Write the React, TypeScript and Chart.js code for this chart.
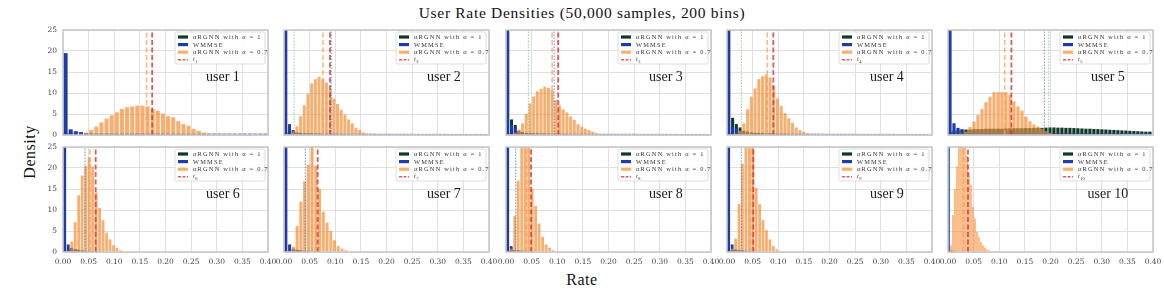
import React, { useEffect, useRef } from "react";
import { Chart, registerables } from "chart.js";

Chart.register(...registerables);

// ---------------- text ----------------
const TITLE = "User Rate Densities (50,000 samples, 200 bins)";
const X_LABEL = "Rate";
const Y_LABEL = "Density";
const USER_LABELS = ["user 1", "user 2", "user 3", "user 4", "user 5", "user 6", "user 7", "user 8", "user 9", "user 10"];
const SERIES_LABELS = ["αRGNN with α = 1", "WMMSE", "αRGNN with α = 0.7"];
const THRESHOLD_SYMBOL = "t";
const THRESHOLD_SUBSCRIPTS = ["1", "2", "3", "4", "5", "6", "7", "8", "9", "10"];

// ---------------- axes ----------------
const X_TICKS = [0, 0.05, 0.1, 0.15, 0.2, 0.25, 0.3, 0.35, 0.4];
const Y_TICKS = [0, 5, 10, 15, 20, 25];

// histogram bin width of each user's panel
const BIN_WIDTHS = [0.01, 0.0072, 0.0072, 0.0073, 0.0078, 0.0068, 0.0073, 0.0068, 0.0067, 0.0039];

// ---------------- densities per bin (bin k starts at k * bin width) ----------------
const ALPHA1_U1 = [0.5, 0.4, 0.35, 0.3, 0.3, 0.3, 0.3, 0.3, 0.3, 0.3, 0.3, 0.3, 0.3, 0.3, 0.3, 0.3, 0.3, 0.3, 0.3, 0.3, 0.28, 0.28, 0.26, 0.25, 0.24, 0.22, 0.2, 0.2, 0.18, 0.15];
const WMMSE_U1 = [19.5, 1.35, 0.9, 0.7, 0.45, 0.35, 0.3, 0.3, 0.3, 0.3, 0.3, 0.3, 0.3, 0.3, 0.3, 0.3, 0.3, 0.3, 0.3, 0.3, 0.3, 0.3, 0.3, 0.3, 0.3, 0.3, 0.32, 0.32, 0.32, 0.32, 0.32, 0.32, 0.32, 0.32, 0.32, 0.32, 0.32, 0.32, 0.32, 0.32];
const ALPHA07_U1 = [0, 0, 0.1, 0.3, 0.55, 1.2, 2.0, 3.0, 3.9, 4.7, 5.4, 6.2, 6.6, 6.8, 7.0, 7.0, 6.8, 6.2, 5.8, 5.1, 4.5, 4.2, 3.3, 2.6, 2.2, 1.4, 1.0, 0.55, 0.3, 0.15, 0.08, 0.03];

const ALPHA1_U2 = [0.8, 1.0, 0.9, 0.6, 0.5, 0.45, 0.4, 0.4, 0.35, 0.35, 0.3, 0.3, 0.3, 0.3, 0.25, 0.25, 0.2, 0.2, 0.2, 0.15, 0.15, 0.1, 0.1];
const WMMSE_U2 = [40, 2.6, 1.2, 0.5, 0.35, 0.3, 0.3, 0.3, 0.3, 0.3, 0.3, 0.3, 0.3, 0.3, 0.3, 0.3, 0.3, 0.3, 0.3, 0.3, 0.3, 0.3, 0.3, 0.3, 0.3, 0.28, 0.28, 0.28, 0.28, 0.28, 0.28, 0.28, 0.28, 0.28, 0.28, 0.26, 0.26, 0.26, 0.26, 0.26, 0.26, 0.26, 0.26, 0.26, 0.26, 0.25, 0.25, 0.25, 0.25, 0.25, 0.25, 0.25, 0.25, 0.25, 0.25];
const ALPHA07_U2 = [0, 0.2, 0.8, 2.1, 4.5, 7.1, 9.8, 12.3, 13.3, 13.9, 13.3, 12.5, 10.9, 8.7, 7.4, 6.0, 4.8, 3.7, 2.8, 1.7, 1.2, 0.6, 0.3, 0.15, 0.05];

const ALPHA1_U3 = [0.5, 3.7, 2.4, 1.0, 0.7, 0.5, 0.45, 0.4, 0.4, 0.35, 0.35, 0.3, 0.3, 0.3, 0.3, 0.25, 0.25, 0.2, 0.2, 0.2, 0.15, 0.15, 0.1, 0.1];
const WMMSE_U3 = [40, 2.4, 1.6, 0.6, 0.4, 0.3, 0.3, 0.3, 0.3, 0.3, 0.3, 0.3, 0.3, 0.3, 0.3, 0.3, 0.3, 0.3, 0.3, 0.3, 0.3, 0.3, 0.3, 0.3, 0.3, 0.28, 0.28, 0.28, 0.28, 0.28, 0.28, 0.28, 0.28, 0.28, 0.28, 0.26, 0.26, 0.26, 0.26, 0.26, 0.26, 0.26, 0.26, 0.26, 0.26, 0.25, 0.25, 0.25, 0.25, 0.25, 0.25, 0.25, 0.25, 0.25, 0.25];
const ALPHA07_U3 = [0, 0, 0.5, 1.3, 2.8, 5.0, 7.5, 9.2, 10.4, 11.0, 11.5, 11.2, 10.7, 8.3, 7.1, 6.1, 5.4, 4.4, 3.6, 2.6, 2.0, 1.5, 1.2, 0.8, 0.4, 0.2, 0.1];

const ALPHA1_U4 = [0.5, 4.1, 2.6, 1.8, 1.0, 0.8, 0.6, 0.5, 0.5, 0.45, 0.4, 0.4, 0.35, 0.3, 0.3, 0.3, 0.25, 0.25, 0.2, 0.2, 0.15, 0.1];
const WMMSE_U4 = [40, 2.0, 1.6, 0.6, 0.4, 0.3, 0.3, 0.3, 0.3, 0.3, 0.3, 0.3, 0.3, 0.3, 0.3, 0.3, 0.3, 0.3, 0.3, 0.3, 0.3, 0.3, 0.3, 0.3, 0.3, 0.28, 0.28, 0.28, 0.28, 0.28, 0.28, 0.28, 0.28, 0.28, 0.28, 0.26, 0.26, 0.26, 0.26, 0.26, 0.26, 0.26, 0.26, 0.26, 0.26, 0.25, 0.25, 0.25, 0.25, 0.25, 0.25, 0.25, 0.25, 0.25];
const ALPHA07_U4 = [0, 0, 0.3, 1.0, 2.8, 6.1, 9.1, 11.1, 13.3, 14.0, 14.4, 13.7, 11.7, 8.7, 6.9, 5.2, 4.0, 2.9, 1.8, 1.2, 0.7, 0.4, 0.2, 0.1];

const ALPHA1_U5 = [0.8, 1.0, 1.1, 1.2, 1.3, 1.3, 1.4, 1.4, 1.4, 1.5, 1.5, 1.5, 1.5, 1.5, 1.55, 1.6, 1.6, 1.6, 1.6, 1.65, 1.65, 1.7, 1.7, 1.7, 1.75, 1.8, 1.8, 1.75, 1.75, 1.7, 1.7, 1.65, 1.6, 1.55, 1.5, 1.5, 1.45, 1.4, 1.35, 1.3, 1.25, 1.2, 1.15, 1.1, 1.05, 1.0, 0.95, 0.9, 0.85, 0.8, 0.8];
const WMMSE_U5 = [40, 2.8, 1.7, 1.4, 0.6, 0.5, 0.5, 0.45, 0.45, 0.45, 0.45, 0.45, 0.45, 0.45, 0.45, 0.45, 0.45, 0.45, 0.45, 0.45, 0.45, 0.45, 0.45, 0.45, 0.45, 0.42, 0.42, 0.42, 0.42, 0.42, 0.42, 0.42, 0.42, 0.42, 0.42, 0.4, 0.4, 0.4, 0.4, 0.4, 0.4, 0.4, 0.4, 0.4, 0.4, 0.4, 0.4, 0.4, 0.4, 0.4, 0.4];
const ALPHA07_U5 = [0, 0, 0, 0.3, 0.8, 1.9, 3.2, 4.8, 6.2, 7.8, 9.1, 10.2, 10.2, 10.2, 10.2, 9.6, 8.0, 6.8, 5.8, 4.4, 3.3, 2.5, 2.0, 1.5, 0.9, 0.5, 0.25, 0.1];

const ALPHA1_U6 = [0.3, 0.6, 0.9, 0.7, 0.5, 0.4, 0.3, 0.3, 0.2, 0.2, 0.1];
const WMMSE_U6 = [40, 1.8, 1.0, 0.5, 0.4, 0.3, 0.2, 0.2, 0.15, 0.1];
const ALPHA07_U6 = [0, 0.3, 2.5, 7.1, 13.5, 18.2, 20.5, 22.5, 20.3, 14.2, 10.5, 7.6, 4.6, 3.0, 1.6, 1.0, 0.4, 0.15];

const ALPHA1_U7 = [0.3, 0.5, 0.6, 0.5, 0.4, 0.3, 0.3, 0.2, 0.2, 0.1];
const WMMSE_U7 = [40, 1.8, 0.8, 0.4, 0.3, 0.2, 0.15, 0.1];
const ALPHA07_U7 = [0, 0.3, 1.3, 6.2, 12.0, 16.8, 20.8, 25.5, 20.5, 15.0, 9.6, 7.0, 5.0, 2.8, 1.4, 0.8, 0.4, 0.15];

const ALPHA1_U8 = [0.3, 0.4, 0.5, 0.4, 0.3, 0.3, 0.2, 0.2, 0.1];
const WMMSE_U8 = [40, 1.4, 0.4, 0.3, 0.2, 0.15, 0.1];
const ALPHA07_U8 = [0, 0.8, 8.6, 17.0, 28.0, 30.0, 27.0, 15.0, 11.0, 6.8, 3.6, 1.8, 1.0, 0.4, 0.15];

const ALPHA1_U9 = [0.3, 0.4, 0.6, 0.5, 0.4, 0.3, 0.3, 0.2, 0.1];
const WMMSE_U9 = [40, 1.8, 0.5, 0.3, 0.2, 0.15, 0.1];
const ALPHA07_U9 = [0, 0.8, 3.2, 11.4, 21.0, 26.0, 27.5, 25.5, 15.2, 11.4, 7.6, 5.2, 3.0, 1.4, 0.6, 0.2];

const ALPHA1_U10 = [0.2, 0.3, 0.3, 0.2, 0.2, 0.1];
const WMMSE_U10 = [40, 0.3, 0.1];
const ALPHA07_U10 = [0, 1.6, 8.8, 15.0, 20.4, 27.0, 30.0, 30.0, 27.0, 23.0, 19.0, 16.0, 10.8, 8.0, 4.8, 3.6, 2.4, 1.6, 1.0, 0.6, 0.4, 0.2];

// vertical reference lines (x values); null = not shown
const THRESHOLDS = [0.174, 0.0898, 0.102, 0.0904, 0.1237, 0.0638, 0.0657, 0.0488, 0.0514, 0.039];
const MEAN_ALPHA07 = [0.163, 0.076, 0.09, 0.0787, 0.1106, 0.0527, 0.0546, 0.04, 0.0458, 0.03];
const MEAN_WMMSE = [null, 0.092, 0.094, null, 0.188, 0.043, 0.0416, 0.019, 0.028, 0.003];
const MEAN_ALPHA1 = [null, 0.0195, 0.0436, 0.028, 0.1966, null, null, null, null, null];

const ALPHA1 = [ALPHA1_U1, ALPHA1_U2, ALPHA1_U3, ALPHA1_U4, ALPHA1_U5, ALPHA1_U6, ALPHA1_U7, ALPHA1_U8, ALPHA1_U9, ALPHA1_U10];
const WMMSE = [WMMSE_U1, WMMSE_U2, WMMSE_U3, WMMSE_U4, WMMSE_U5, WMMSE_U6, WMMSE_U7, WMMSE_U8, WMMSE_U9, WMMSE_U10];
const ALPHA07 = [ALPHA07_U1, ALPHA07_U2, ALPHA07_U3, ALPHA07_U4, ALPHA07_U5, ALPHA07_U6, ALPHA07_U7, ALPHA07_U8, ALPHA07_U9, ALPHA07_U10];

// ---------------- styles / layout ----------------
const SERIF = '"Liberation Serif", "Times New Roman", serif';
const TICK_FAMILY = '"DejaVu Serif", serif';
const GREEN = "rgb(14, 58, 32)";
const BLUE = "rgb(30, 60, 168)";
const ORANGE = "rgba(245, 140, 50, 0.7)";
const ORANGE_LEGEND = "rgba(245, 150, 65, 0.75)";
const RED_LINE = "rgba(214, 50, 50, 0.8)";
const ORANGE_LINE = "rgba(246, 160, 90, 0.75)";
const BLUE_LINE = "rgba(70, 110, 210, 0.8)";
const GREEN_LINE = "rgba(110, 190, 110, 0.75)";
const GRID = "#dfdfdf";
const SPINE = "#c6c6c6";

const PLOT_LEFTS = [63, 284, 506, 727, 948];
const PLOT_TOPS = [30, 147];
const PLOT_W = 205;
const PLOT_H = 105;

function Panel({ index }: { index: number }) {
  const canvasRef = useRef<HTMLCanvasElement | null>(null);
  const col = index % 5;
  const row = Math.floor(index / 5);
  const padL = col === 0 ? 40 : 16;
  const padR = 16;
  const padT = 4;
  const padB = row === 1 ? 22 : 4;
  const width = PLOT_W + padL + padR;
  const height = PLOT_H + padT + padB;

  useEffect(() => {
    const canvas = canvasRef.current;
    if (!canvas) return;
    const bw = BIN_WIDTHS[index];
    const yTop = Y_TICKS[Y_TICKS.length - 1];
    const bins = (vals: number[]) => vals.map((y, k) => ({ x: (k + 0.5) * bw, y }));
    const vline = (v: number) => [
      { x: v, y: Y_TICKS[0] },
      { x: v, y: yTop },
    ];
    const barBase = {
      type: "bar",
      grouped: false,
      barPercentage: 0.8,
      categoryPercentage: 1,
      clip: 0,
      borderWidth: 0,
    };
    const datasets: any[] = [
      { ...barBase, label: SERIES_LABELS[0], data: bins(ALPHA1[index]), backgroundColor: GREEN, order: 6 },
      { ...barBase, label: SERIES_LABELS[1], data: bins(WMMSE[index]), backgroundColor: BLUE, order: 5 },
      { ...barBase, label: SERIES_LABELS[2], data: bins(ALPHA07[index]), backgroundColor: ORANGE, order: 4 },
    ];
    const lineBase = { type: "line", pointRadius: 0, fill: false, clip: false, tension: 0 };
    const g = MEAN_ALPHA1[index];
    if (g !== null) datasets.push({ ...lineBase, data: vline(g), borderColor: GREEN_LINE, borderWidth: 1, borderDash: [1.5, 1.5], order: 3 });
    const b = MEAN_WMMSE[index];
    if (b !== null) datasets.push({ ...lineBase, data: vline(b), borderColor: BLUE_LINE, borderWidth: 1, borderDash: [1.5, 1.5], order: 2 });
    datasets.push({ ...lineBase, data: vline(MEAN_ALPHA07[index]), borderColor: ORANGE_LINE, borderWidth: 1.6, borderDash: [5, 2.5], order: 1 });
    datasets.push({ ...lineBase, data: vline(THRESHOLDS[index]), borderColor: RED_LINE, borderWidth: 1.8, borderDash: [5, 2.5], order: 0 });

    const decor = {
      id: "panelDecor",
      afterDatasetsDraw(chart: any) {
        const { ctx, chartArea: a } = chart;
        const w = a.right - a.left;
        const h = a.bottom - a.top;
        ctx.save();
        ctx.strokeStyle = SPINE;
        ctx.lineWidth = 1.5;
        ctx.strokeRect(a.left, a.top, w, h);

        // user label
        ctx.fillStyle = "#1a1a1a";
        ctx.font = `14px ${SERIF}`;
        ctx.textAlign = "center";
        ctx.textBaseline = "middle";
        ctx.fillText(USER_LABELS[index], a.left + w * 0.78, a.top + h * 0.455);

        // legend
        const lw = 90;
        const lh = 32;
        const lx = a.right - 3 - lw;
        const ly = a.top + 2;
        ctx.beginPath();
        if (ctx.roundRect) ctx.roundRect(lx, ly, lw, lh, 2);
        else ctx.rect(lx, ly, lw, lh);
        ctx.fillStyle = "rgba(255,255,255,0.85)";
        ctx.fill();
        ctx.strokeStyle = "#d4d4d4";
        ctx.lineWidth = 0.8;
        ctx.stroke();
        const swatches = [GREEN, BLUE, ORANGE_LEGEND];
        const textX = lx + 18;
        ctx.textAlign = "left";
        ctx.textBaseline = "middle";
        for (let r = 0; r < 4; r++) {
          const cy = ly + 5 + r * 7.6;
          if (r < 3) {
            ctx.fillStyle = swatches[r];
            ctx.fillRect(lx + 3, cy - 1.6, 10, 3.2);
            ctx.fillStyle = "#333";
            ctx.font = `6.4px ${SERIF}`;
            (ctx as any).letterSpacing = "1.2px";
            ctx.fillText(SERIES_LABELS[r], textX, cy + 0.3);
          } else {
            ctx.strokeStyle = RED_LINE;
            ctx.lineWidth = 1.5;
            ctx.setLineDash([3, 1.5]);
            ctx.beginPath();
            ctx.moveTo(lx + 3, cy);
            ctx.lineTo(lx + 13, cy);
            ctx.stroke();
            ctx.setLineDash([]);
            ctx.fillStyle = "#333";
            (ctx as any).letterSpacing = "0px";
            ctx.font = `italic 6.4px ${SERIF}`;
            ctx.fillText(THRESHOLD_SYMBOL, textX, cy);
            ctx.font = `4.4px ${SERIF}`;
            ctx.fillText(THRESHOLD_SUBSCRIPTS[index], textX + 2.2, cy + 1.8);
          }
        }
        (ctx as any).letterSpacing = "0px";
        ctx.restore();
      },
    };

    const chart = new Chart(canvas, {
      type: "bar",
      data: { datasets },
      options: {
        animation: false,
        responsive: false,
        maintainAspectRatio: false,
        devicePixelRatio: 1,
        events: [],
        layout: { padding: { left: 0, right: padR, top: padT, bottom: 0 } },
        plugins: {
          legend: { display: false },
          tooltip: { enabled: false },
          title: { display: false },
        },
        scales: {
          x: {
            type: "linear",
            min: X_TICKS[0],
            max: X_TICKS[X_TICKS.length - 1],
            offset: false,
            grid: { color: GRID, lineWidth: 1, drawTicks: false, offset: false },
            border: { display: false },
            ticks: {
              display: row === 1,
              padding: 6,
              maxRotation: 0,
              autoSkip: false,
              color: "#444",
              font: { family: TICK_FAMILY, size: 7.5 },
              callback: (v: any) => Number(v).toFixed(2),
            },
            afterBuildTicks: (s: any) => {
              s.ticks = X_TICKS.map((value) => ({ value }));
            },
            afterFit: (s: any) => {
              s.height = padB;
              s.paddingLeft = 0;
              s.paddingRight = 0;
            },
          },
          y: {
            type: "linear",
            min: Y_TICKS[0],
            max: yTop,
            grid: { color: GRID, lineWidth: 1, drawTicks: false },
            border: { display: false },
            ticks: {
              display: col === 0,
              padding: 6,
              color: "#444",
              font: { family: TICK_FAMILY, size: 7.5 },
            },
            afterBuildTicks: (s: any) => {
              s.ticks = Y_TICKS.map((value) => ({ value }));
            },
            afterFit: (s: any) => {
              s.width = padL;
              s.paddingTop = 0;
              s.paddingBottom = 0;
            },
          },
        },
      } as any,
      plugins: [decor],
    } as any);
    return () => chart.destroy();
  }, [index]);

  return (
    <canvas
      ref={canvasRef}
      width={width}
      height={height}
      style={{
        position: "absolute",
        left: PLOT_LEFTS[col] - padL,
        top: PLOT_TOPS[row] - padT,
        width,
        height,
      }}
    />
  );
}

export default function App() {
  const panels = USER_LABELS.map((_, i) => <Panel key={i} index={i} />);
  return (
    <div
      style={{
        position: "absolute",
        left: 0,
        top: 0,
        width: 1164,
        height: 291,
        background: "#fff",
        fontFamily: SERIF,
        color: "#111",
        overflow: "hidden",
      }}
    >
      <div
        style={{
          position: "absolute",
          left: 0,
          top: 4,
          width: 1164,
          textAlign: "center",
          fontSize: 15.5,
          letterSpacing: 0.7,
          lineHeight: "18px",
          whiteSpace: "nowrap",
        }}
      >
        {TITLE}
      </div>
      <div
        style={{
          position: "absolute",
          left: 30,
          top: 152,
          transform: "translate(-50%, -50%) rotate(-90deg)",
          fontSize: 16,
          letterSpacing: 0.5,
          lineHeight: "18px",
          whiteSpace: "nowrap",
        }}
      >
        {Y_LABEL}
      </div>
      <div
        style={{
          position: "absolute",
          left: 0,
          top: 271,
          width: 1164,
          textAlign: "center",
          fontSize: 16,
          letterSpacing: 0.5,
          lineHeight: "18px",
          whiteSpace: "nowrap",
        }}
      >
        {X_LABEL}
      </div>
      {panels}
    </div>
  );
}
